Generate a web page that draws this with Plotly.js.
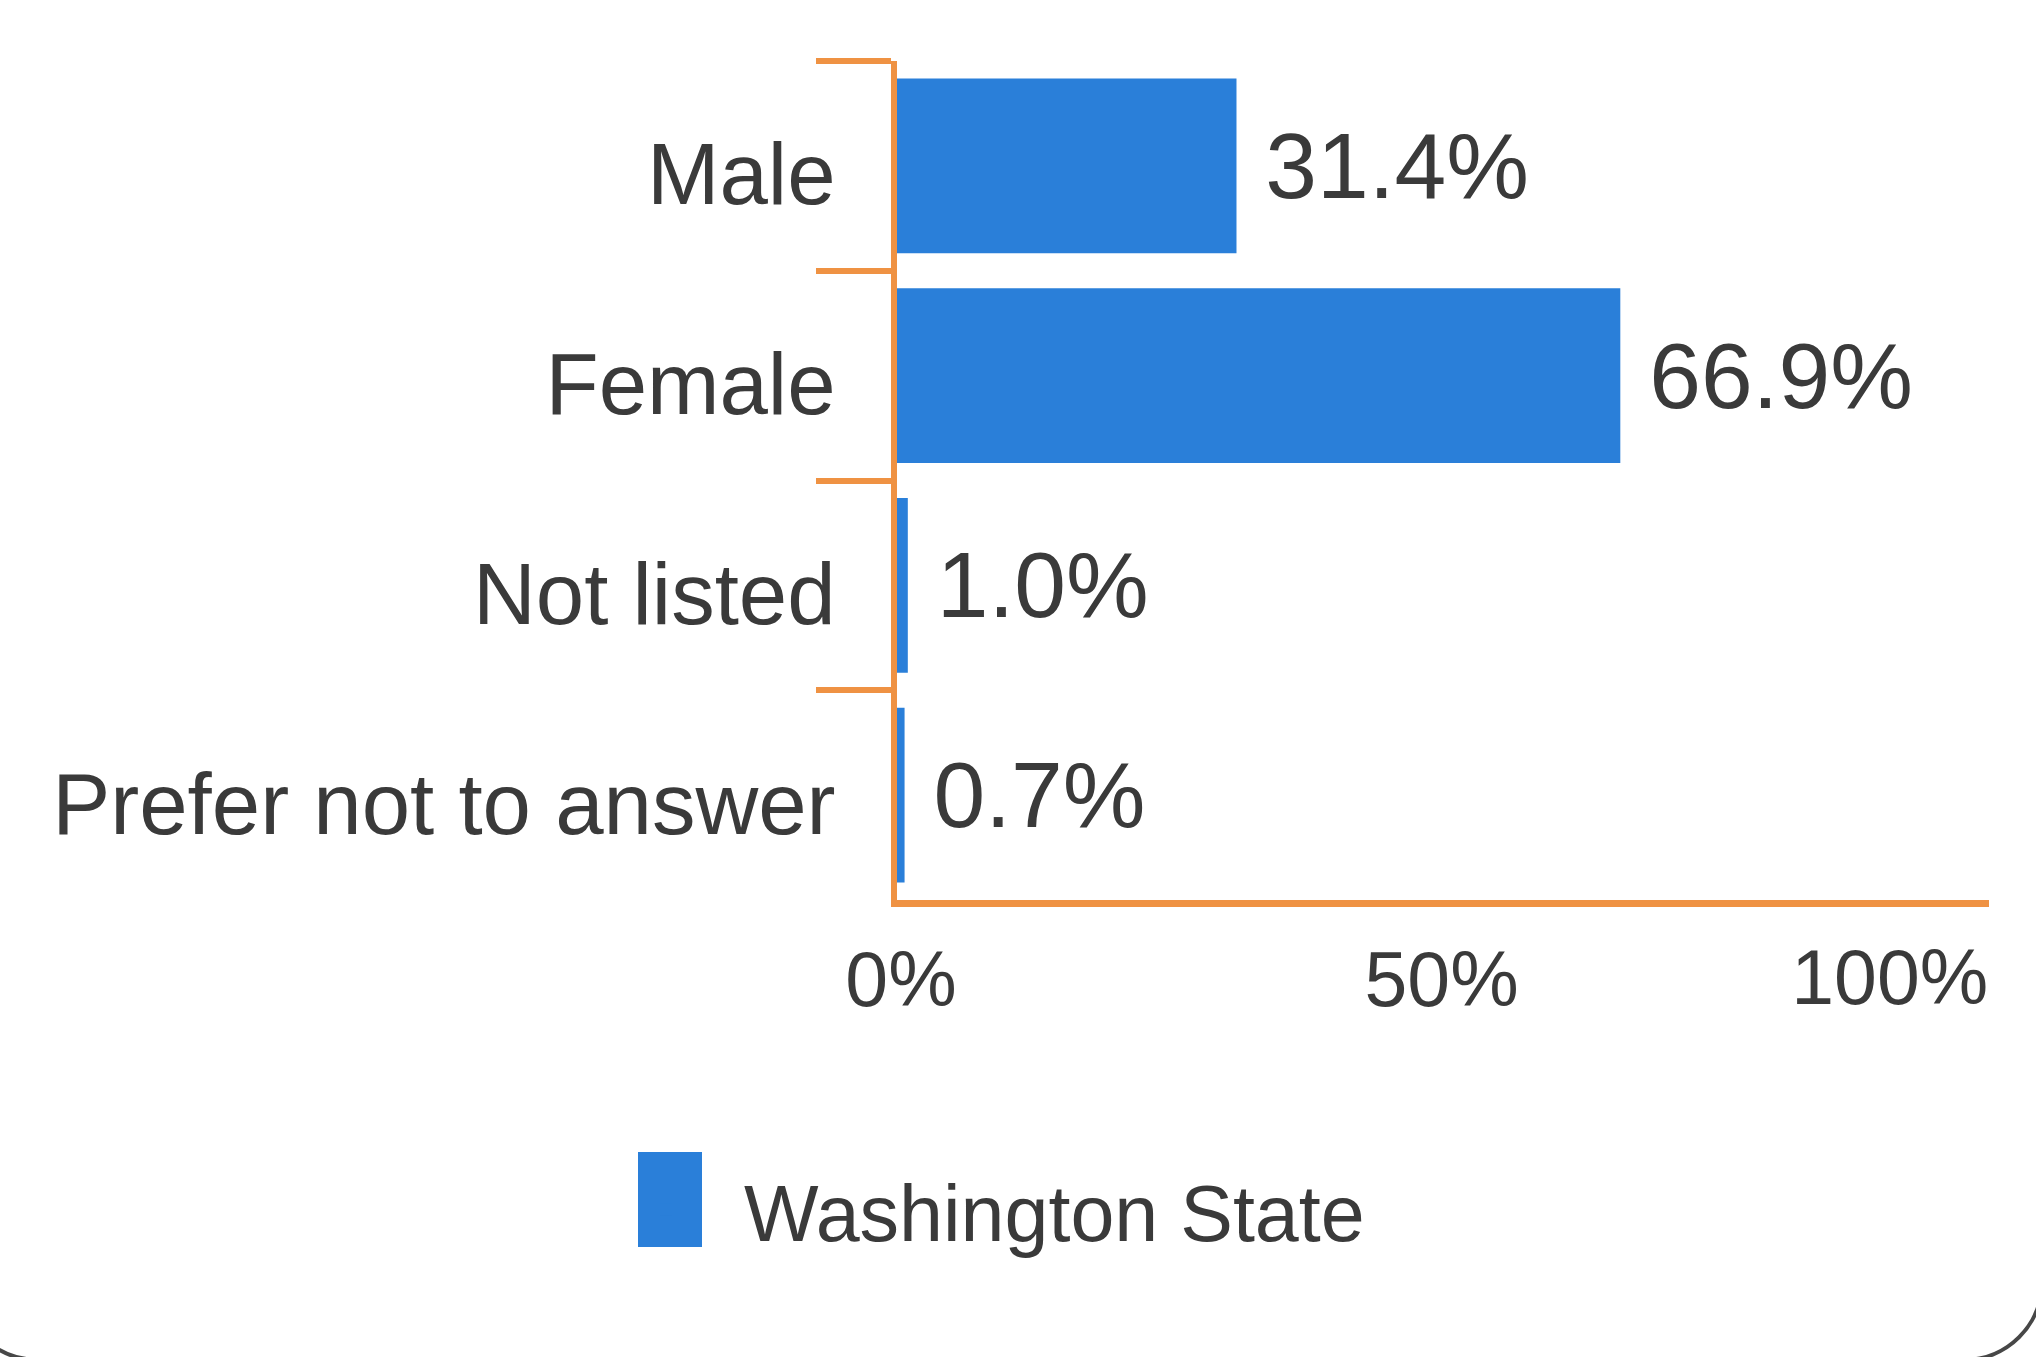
<!DOCTYPE html>
<html>
<head>
<meta charset="utf-8">
<script src="https://cdn.plot.ly/plotly-3.0.1.min.js"></script>
<style>
  html, body { margin: 0; padding: 0; background: #ffffff; overflow: hidden; }
  #chart { position: absolute; left: 0; top: 0; width: 2036px; height: 1357px; }
  #card { position: absolute; left: -42px; top: -100px; width: 2086px; height: 1462px;
          box-sizing: border-box; border: 4px solid #474747; border-radius: 80px;
          pointer-events: none; z-index: 5; }
</style>
</head>
<body>
<div id="chart"></div>
<div id="card"></div>
<script>
// ---- data ----
const categories = ["Male", "Female", "Not listed", "Prefer not to answer"];
const washingtonState = [31.4, 66.9, 1.0, 0.7];
const seriesName = "Washington State";
const xTickVals = [0, 50];
const xTickText = ["0%", "50%"];
const xEndTickVals = [100];
const xEndTickText = ["100%"];

// ---- style / geometry ----
const W = 2036, H = 1357;
const M = { l: 897, r: 47, t: 61, b: 457 };
const PW = W - M.l - M.r, PH = H - M.t - M.b;
const px2x = px => (px - M.l) / PW;
const px2y = py => 1 - (py - M.t) / PH;

const ORANGE = "#ef9243";
const BLUE = "#2a7fd9";
const TEXT = "#3a3a3a";
const FONT = "Arial, 'Liberation Sans', sans-serif";
const XMAX = 101;

const traces = [
  {
    type: "bar",
    orientation: "h",
    name: seriesName,
    y: categories,
    x: washingtonState,
    marker: { color: BLUE },
    texttemplate: " %{x:.1f}%",
    textposition: "outside",
    constraintext: "none",
    cliponaxis: false,
    textfont: { family: FONT, size: 93, color: TEXT },
    hoverinfo: "skip"
  },
  { type: "scatter", x: [], y: [], xaxis: "x2", yaxis: "y", showlegend: false, hoverinfo: "skip" }
];

const layout = {
  width: W, height: H,
  margin: M,
  paper_bgcolor: "rgba(0,0,0,0)",
  plot_bgcolor: "rgba(0,0,0,0)",
  font: { family: FONT, color: TEXT },
  bargap: 0.167,
  showlegend: true,
  legend: {
    orientation: "h",
    x: px2x(588), xanchor: "left",
    y: px2y(1210), yanchor: "middle",
    bgcolor: "rgba(0,0,0,0)",
    itemwidth: 146,
    font: { family: FONT, size: 79, color: TEXT }
  },
  xaxis: {
    range: [0, XMAX],
    tickvals: xTickVals, ticktext: xTickText,
    showgrid: false, zeroline: false,
    showline: true, linecolor: ORANGE, linewidth: 7,
    ticks: "",
    ticklabelstandoff: 7,
    ticklabelshift: 4,
    tickfont: { family: FONT, size: 77, color: TEXT },
    fixedrange: true
  },
  xaxis2: {
    overlaying: "x", anchor: "y", side: "bottom",
    range: [0, XMAX],
    tickvals: xEndTickVals, ticktext: xEndTickText,
    ticklabelposition: "outside left",
    ticklabelstandoff: 26,
    ticklabelshift: 10,
    showgrid: false, zeroline: false, showline: false,
    ticks: "",
    tickfont: { family: FONT, size: 77, color: TEXT },
    fixedrange: true
  },
  yaxis: {
    type: "category",
    categoryorder: "array", categoryarray: categories,
    autorange: "reversed",
    showgrid: false, zeroline: false,
    showline: true, linecolor: ORANGE, linewidth: 6,
    ticks: "outside", tickson: "boundaries", ticklen: 75, tickwidth: 6, tickcolor: ORANGE,
    ticklabelstandoff: 38,
    ticklabelshift: -8,
    tickfont: { family: FONT, size: 87, color: TEXT },
    fixedrange: true
  },
  shapes: [
    { type: "rect", xref: "paper", yref: "paper",
      x0: px2x(638), x1: px2x(702), y0: px2y(1247), y1: px2y(1152),
      fillcolor: BLUE, line: { width: 0 }, layer: "below" }
  ]
};

Plotly.newPlot("chart", traces, layout, { staticPlot: true, displayModeBar: false });
</script>
</body>
</html>
